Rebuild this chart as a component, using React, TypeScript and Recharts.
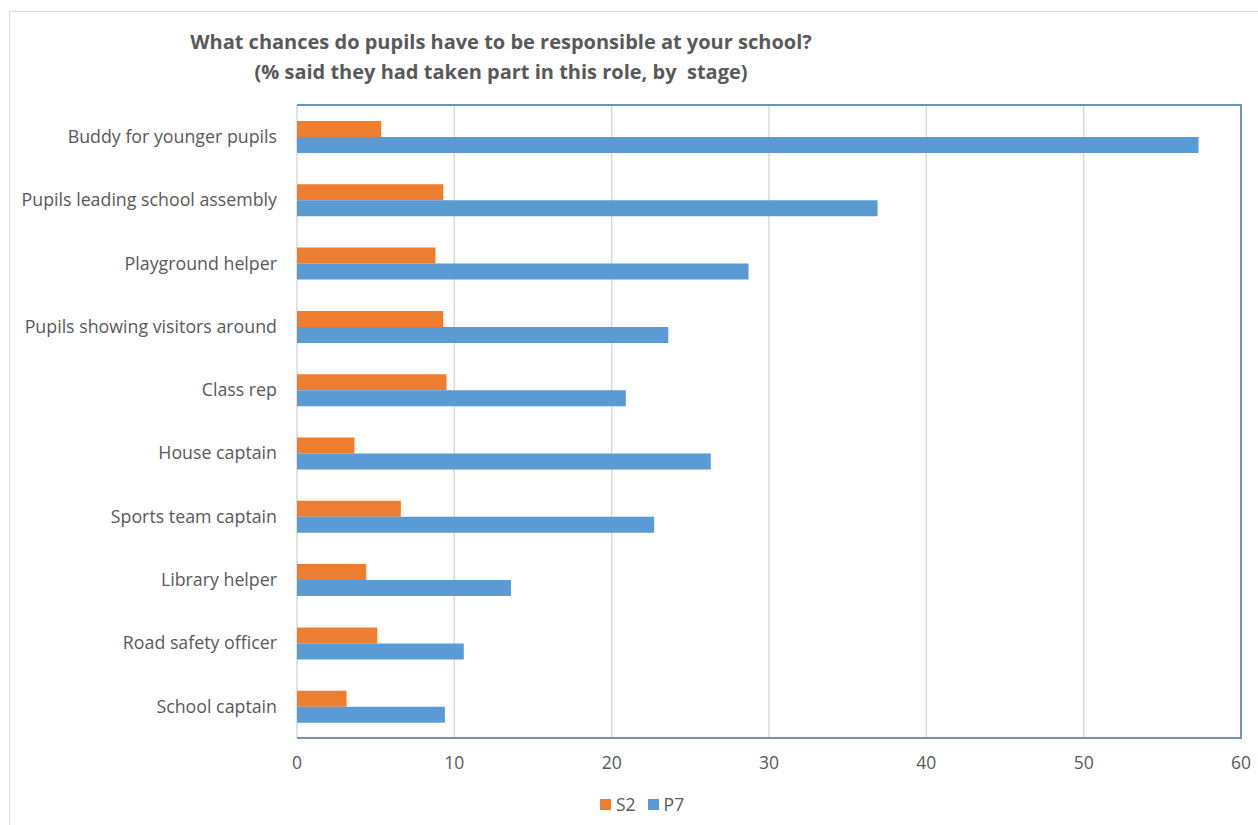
import React from "react";
import {
  BarChart,
  Bar,
  XAxis,
  YAxis,
  CartesianGrid,
  ReferenceArea,
} from "recharts";

const categories = [
  "Buddy for younger pupils",
  "Pupils leading school assembly",
  "Playground helper",
  "Pupils showing visitors around",
  "Class rep",
  "House captain",
  "Sports team captain",
  "Library helper",
  "Road safety officer",
  "School captain",
];
const s2Values = [5.35, 9.3, 8.8, 9.3, 9.5, 3.65, 6.6, 4.4, 5.1, 3.15];
const p7Values = [57.3, 36.9, 28.7, 23.6, 20.9, 26.3, 22.7, 13.6, 10.6, 9.4];
const xTicks = [0, 10, 20, 30, 40, 50, 60];
const seriesNames = ["S2", "P7"];
const titleLines = [
  "What chances do pupils have to be responsible at your school?",
  "(% said they had taken part in this role, by  stage)",
];

const data = categories.map((name, i) => ({
  name,
  S2: s2Values[i],
  P7: p7Values[i],
}));

const FONT = "'Open Sans', sans-serif";
const TEXT = "#595959";
const ORANGE = "#ED7D31";
const BLUE = "#5B9BD5";
const FRAME = "#7093BC";

export default function App() {
  return (
    <div
      style={{
        position: "absolute",
        left: 0,
        top: 0,
        width: 1258,
        height: 825,
        overflow: "hidden",
        background: "#fff",
        fontFamily: FONT,
      }}
    >
      <div
        style={{
          position: "absolute",
          left: 9,
          top: 11,
          width: 1300,
          height: 900,
          border: "1px solid #d9d9d9",
        }}
      />
      <div
        style={{
          position: "absolute",
          left: 0,
          top: 27,
          width: 1002,
          textAlign: "center",
          color: TEXT,
          fontWeight: 700,
          fontSize: 20,
          lineHeight: "30px",
          whiteSpace: "pre",
        }}
      >
        {titleLines[0]}
        {"\n"}
        {titleLines[1]}
      </div>
      <div style={{ position: "absolute", left: 0, top: 0 }}>
        <BarChart
          width={1258}
          height={825}
          data={data}
          layout="vertical"
          margin={{ top: 105, right: 17, bottom: 57, left: 0 }}
          barSize={16}
          barGap={0}
        >
          <CartesianGrid
            horizontal={false}
            vertical={true}
            stroke="#d9d9d9"
            strokeWidth={1.5}
          />
          <XAxis
            type="number"
            domain={[0, 60]}
            ticks={xTicks}
            interval={0}
            height={30}
            tickLine={false}
            tickSize={0}
            tickMargin={19}
            axisLine={{ stroke: FRAME, strokeWidth: 2 }}
            tick={{ fill: TEXT, fontSize: 17.5, fontFamily: FONT }}
          />
          <YAxis
            type="category"
            dataKey="name"
            width={297}
            tickLine={false}
            axisLine={false}
            tickSize={0}
            tickMargin={20}
            interval={0}
            tick={{ fill: TEXT, fontSize: 17.8, fontFamily: FONT }}
          />
          <ReferenceArea
            x1={0}
            x2={60}
            fill="none"
            fillOpacity={0}
            stroke={FRAME}
            strokeWidth={2}
            strokeDasharray="2521 633"
            ifOverflow="visible"
          />
          <Bar
            dataKey="S2"
            name={seriesNames[0]}
            fill={ORANGE}
            isAnimationActive={false}
          />
          <Bar
            dataKey="P7"
            name={seriesNames[1]}
            fill={BLUE}
            isAnimationActive={false}
          />
        </BarChart>
      </div>
      <div
        style={{
          position: "absolute",
          left: 600,
          top: 792,
          display: "flex",
          alignItems: "center",
          color: TEXT,
          fontSize: 17.5,
          lineHeight: "24px",
        }}
      >
        <span
          style={{ display: "inline-block", width: 11, height: 11, background: ORANGE, marginRight: 5 }}
        />
        <span style={{ marginRight: 12 }}>{seriesNames[0]}</span>
        <span
          style={{ display: "inline-block", width: 11, height: 11, background: BLUE, marginRight: 5 }}
        />
        <span>{seriesNames[1]}</span>
      </div>
    </div>
  );
}
